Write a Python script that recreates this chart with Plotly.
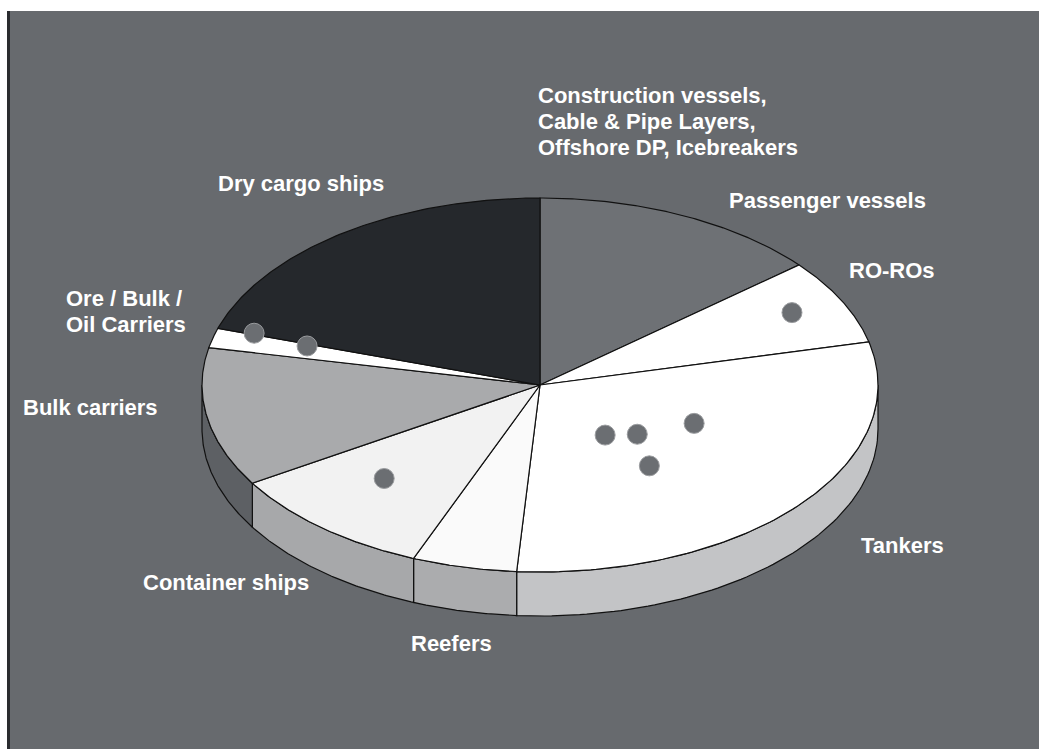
import numpy as np
import plotly.graph_objects as go

# ---- data (share of fleet, %), clockwise from 12 o'clock ----
categories = ["Passenger vessels", "RO-ROs", "Tankers", "Reefers",
              "Container ships", "Bulk carriers", "Ore / Bulk / Oil Carriers",
              "Dry cargo ships"]
values = [13.9, 7.4, 29.8, 5.0, 10.1, 12.0, 1.7, 20.1]

# decorative dots: (slice, fraction along slice, fraction of radius)
dot_slice = ["RO-ROs", "Tankers", "Tankers", "Tankers", "Tankers",
             "Container ships", "Ore / Bulk / Oil Carriers", "Ore / Bulk / Oil Carriers"]
dot_afrac = [0.47, 0.63, 0.52, 0.35, 0.62, 0.57, 1.08, 0.87]
dot_rfrac = [0.84, 0.33, 0.39, 0.50, 0.54, 0.68, 0.89, 0.72]

# ---- styles ----
top_colors = ["#6e7175", "#ffffff", "#ffffff", "#fafafa", "#f2f2f2",
              "#a9aaac", "#ffffff", "#25282c"]
side_colors = ["#6e7175", "#c6c7c9", "#c3c4c6", "#abacae", "#a7a8aa",
               "#5d6064", "#ffffff", "#25282c"]
BG = "#676a6e"
W, H = 1039, 749
CX, CY, RX, RY, DEPTH = 540, 385, 338, 187, 44

total = sum(values)
spans = [v / total * 360 for v in values]
starts = [90 - sum(spans[:i]) for i in range(len(spans))]
ends = [s - sp for s, sp in zip(starts, spans)]


def ept(t_deg, r=1.0, dy=0.0):
    t = np.radians(t_deg)
    return CX + RX * r * np.cos(t), CY - RY * r * np.sin(t) + dy


fig = go.Figure()

# side walls (only front half visible: angles between -180 and 0)
for i in range(len(values)):
    lo, hi = min(starts[i], ends[i]), max(starts[i], ends[i])
    for shift in (0, -360, 360):
        fl, fh = max(lo + shift, -180), min(hi + shift, 0)
        if fh > fl:
            ts = np.linspace(fl, fh, 80)
            xt, yt = ept(ts)
            xb, yb = ept(ts[::-1], dy=DEPTH)
            xs = np.concatenate([xt, xb, xt[:1]])
            ys = np.concatenate([yt, yb, yt[:1]])
            fig.add_trace(go.Scatter(x=xs, y=ys, mode="lines", fill="toself",
                                     fillcolor=side_colors[i],
                                     line=dict(color="#111111", width=1.2),
                                     hoverinfo="skip", showlegend=False))

# top faces
for i in range(len(values)):
    ts = np.linspace(starts[i], ends[i], 120)
    xa, ya = ept(ts)
    xs = np.concatenate([[CX], xa, [CX]])
    ys = np.concatenate([[CY], ya, [CY]])
    fig.add_trace(go.Scatter(x=xs, y=ys, mode="lines", fill="toself",
                             fillcolor=top_colors[i],
                             line=dict(color="#111111", width=1.2),
                             name=categories[i], hoverinfo="name",
                             showlegend=False))

# dots
dx, dy = [], []
for s, af, rf in zip(dot_slice, dot_afrac, dot_rfrac):
    k = categories.index(s)
    t = starts[k] - af * spans[k]
    x, y = ept(t, r=rf)
    dx.append(x)
    dy.append(y)
fig.add_trace(go.Scatter(x=dx, y=dy, mode="markers",
                         marker=dict(size=20, color="#6b6e72",
                                     line=dict(color="#9a9c9f", width=1)),
                         hoverinfo="skip", showlegend=False))

# labels: (lines, left x, first-line centre y)
labels = [
    (["Construction vessels,", "Cable &amp; Pipe Layers,", "Offshore DP, Icebreakers"], 536, 95),
    (["Passenger vessels"], 727, 200),
    (["RO-ROs"], 847, 270),
    (["Tankers"], 859, 545),
    (["Reefers"], 409, 643),
    (["Container ships"], 141, 582),
    (["Bulk carriers"], 21, 407),
    (["Ore / Bulk /", "Oil Carriers"], 64, 298),
    (["Dry cargo ships"], 216, 183),
]
LINE = 26
for lines, x, y in labels:
    for j, text in enumerate(lines):
        fig.add_annotation(x=x, y=y + j * LINE, xref="x", yref="y", text=text,
                           showarrow=False, xanchor="left", yanchor="middle",
                           align="left",
                           font=dict(family="Liberation Sans, Arial, sans-serif",
                                     size=22, color="#ffffff", weight="bold"))

# frame (white top / left border of the scanned figure)
fig.add_shape(type="rect", x0=0, x1=W, y0=0, y1=11, xref="x", yref="y",
              fillcolor="#ffffff", line_width=0, layer="below")
fig.add_shape(type="rect", x0=0, x1=7, y0=0, y1=H, xref="x", yref="y",
              fillcolor="#ffffff", line_width=0, layer="below")
fig.add_shape(type="rect", x0=7, x1=10, y0=11, y1=H, xref="x", yref="y",
              fillcolor="#2a2c2f", line_width=0, layer="below")

fig.update_layout(
    width=W, height=H, margin=dict(l=0, r=0, t=0, b=0),
    paper_bgcolor=BG, plot_bgcolor=BG,
    xaxis=dict(range=[0, W], visible=False, fixedrange=True),
    yaxis=dict(range=[H, 0], visible=False, fixedrange=True),
    showlegend=False,
)
fig.write_html("out.html")
